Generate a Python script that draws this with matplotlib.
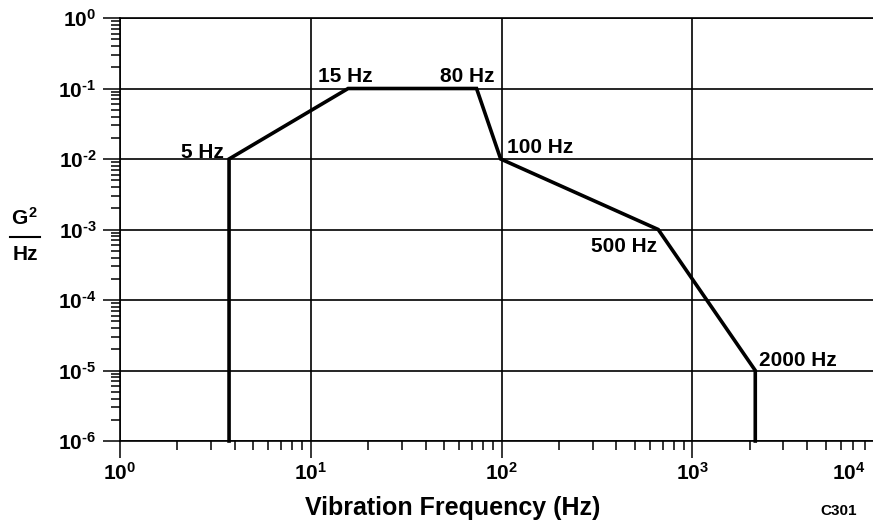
import math

import matplotlib
matplotlib.use("Agg")
import matplotlib.pyplot as plt
from matplotlib.lines import Line2D
from matplotlib.ticker import LogLocator, FuncFormatter, NullFormatter
import matplotlib.transforms as mtrans

# random vibration profile, as drawn (x positions)
freq = [3.73, 3.73, 15.7, 74.0, 99.0, 663.0, 2140.0, 2140.0]
psd = [1e-6, 1e-2, 1e-1, 1e-1, 1e-2, 1e-3, 1e-5, 1e-6]

# breakpoint labels: (text, index into freq/psd)
point_labels = ["5 Hz", "15 Hz", "80 Hz", "100 Hz", "500 Hz", "2000 Hz"]
label_index = [1, 2, 3, 4, 5, 6]
label_offset = [(-4, 1), (-22, 4.5), (13, 4.5), (4.5, 4.5), (-1, -16.5), (2.5, 3)]
label_ha = ["right", "left", "right", "left", "right", "left"]

plt.rcParams['font.family'] = ['Liberation Sans', 'DejaVu Sans']
plt.rcParams['font.weight'] = 'bold'
plt.rcParams['mathtext.fontset'] = 'custom'
plt.rcParams['mathtext.rm'] = 'Liberation Sans:bold'
plt.rcParams['mathtext.it'] = 'Liberation Sans:bold'
plt.rcParams['mathtext.bf'] = 'Liberation Sans:bold'
plt.rcParams['axes.unicode_minus'] = False

W, H = 873, 521
fig = plt.figure(figsize=(W / 100, H / 100), dpi=100)
# right edge (1e4) sits just past the picture border, as in the reference
ax = fig.add_axes([120 / W, 80 / H, 763 / W, 423 / H])

ax.set_xscale('log')
ax.set_yscale('log')
ax.set_xlim(1, 1e4)
ax.set_ylim(1e-6, 1)

ax.plot(freq, psd, color='black', lw=2.6, solid_joinstyle='miter', zorder=3,
        clip_on=False)

for txt, i, off, ha in zip(point_labels, label_index, label_offset, label_ha):
    ax.annotate(txt, xy=(freq[i], psd[i]), xytext=off,
                textcoords='offset points', ha=ha, va='baseline',
                fontsize=15, fontweight='bold', zorder=4)

ax.xaxis.set_major_locator(LogLocator(base=10, numticks=10))
ax.xaxis.set_minor_locator(LogLocator(base=10, subs=range(2, 10), numticks=20))
ax.yaxis.set_major_locator(LogLocator(base=10, numticks=10))
ax.yaxis.set_minor_locator(LogLocator(base=10, subs=range(2, 10), numticks=20))


def dec_label(e):
    if e < 0:
        return r'$10^{\text{-}%d}$' % (-e)
    return r'$10^{%d}$' % e


def dec_fmt(v, pos):
    e = int(round(math.log10(v)))
    if e > 3 or e < -6:
        return ''
    return dec_label(e)


ax.xaxis.set_major_formatter(FuncFormatter(dec_fmt))
ax.yaxis.set_major_formatter(FuncFormatter(dec_fmt))
ax.xaxis.set_minor_formatter(NullFormatter())
ax.yaxis.set_minor_formatter(NullFormatter())

ax.tick_params(which='major', direction='out', length=12, width=1.1,
               labelsize=15, color='black')
ax.tick_params(which='minor', direction='out', length=6.5, width=1.1,
               color='black')
ax.tick_params(axis='x', which='major', pad=3)
ax.tick_params(axis='y', which='major', pad=5)

ax.grid(True, which='major', color='black', lw=1.2)
ax.set_axisbelow(True)
for side in ['left', 'bottom', 'top']:
    ax.spines[side].set_linewidth(1.2)
ax.spines['right'].set_visible(False)

# 10^4 label pulled inside the picture
lab4 = ax.text(10 ** 3.82, 1e-6, dec_label(4), fontsize=15, ha='center',
               va='top')
lab4.set_transform(ax.transData + mtrans.ScaledTranslation(
    0, -15 / 72, fig.dpi_scale_trans))

fig.text(453 / W, 1 - 515 / H, 'Vibration Frequency (Hz)', fontsize=18,
         fontweight='bold', ha='center', va='baseline')
fig.text(839 / W, 1 - 515 / H, 'C301', fontsize=11, fontweight='bold',
         ha='center', va='baseline')

# y label drawn as a fraction G^2 / Hz
cx = 25 / W
fig.text(cx, 1 - 225 / H, r'$G^{2}$', fontsize=15, ha='center',
         va='baseline')
fig.text(cx, 1 - 260 / H, 'Hz', fontsize=15, fontweight='bold', ha='center',
         va='baseline')
fig.add_artist(Line2D([10 / W, 40 / W], [1 - 237 / H, 1 - 237 / H],
                      color='black', lw=1.5, transform=fig.transFigure))

fig.savefig('out.png', dpi=100)
